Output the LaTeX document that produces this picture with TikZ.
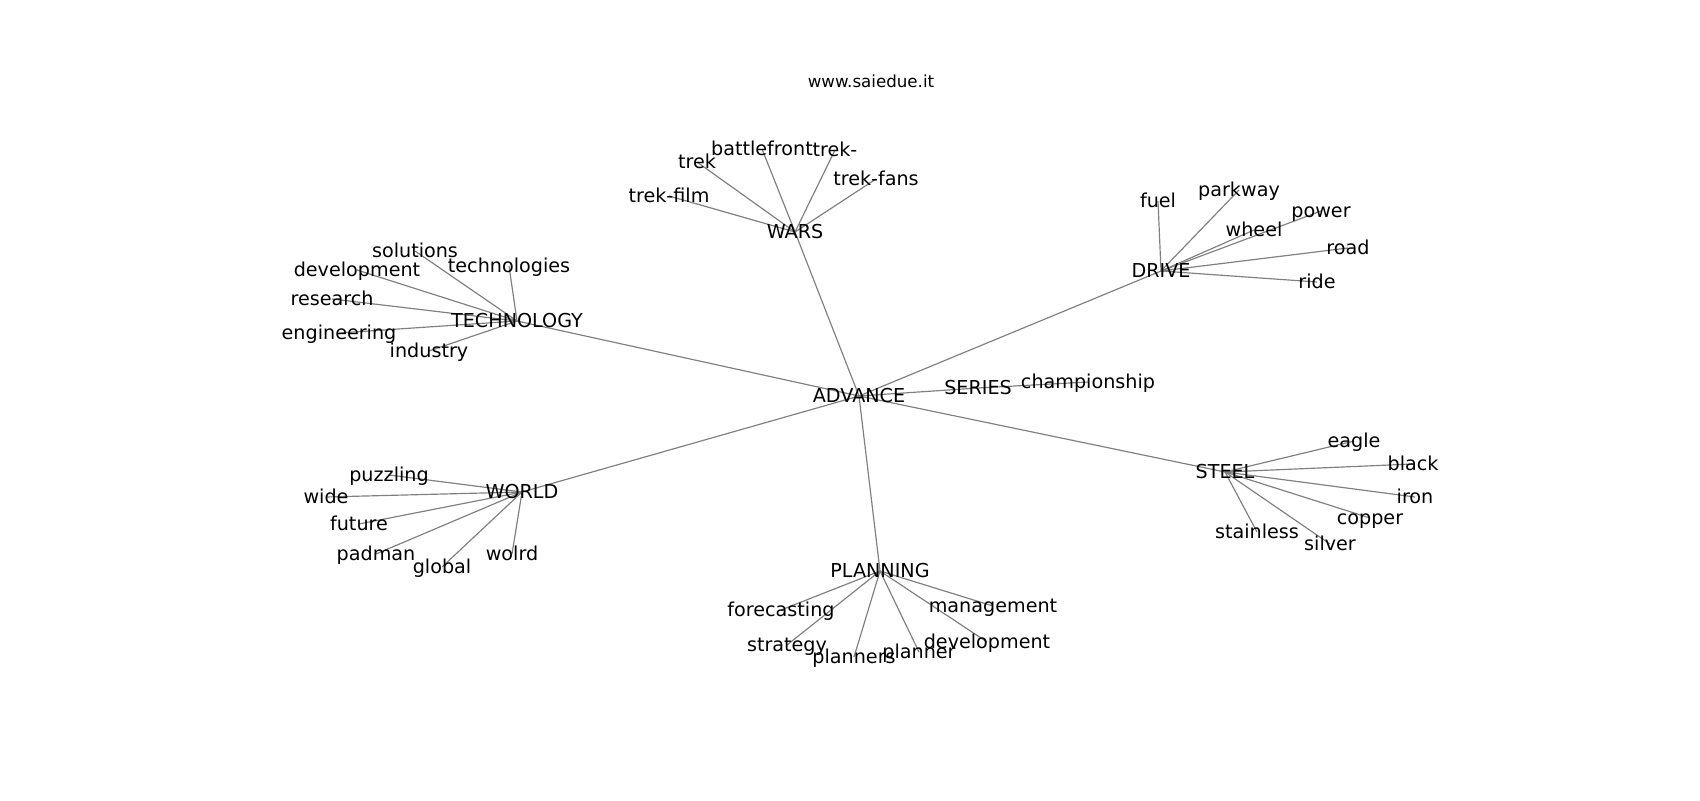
\documentclass[tikz,border=0pt]{standalone}
\usepackage{fontspec}
\setmainfont{DejaVu Sans}
\usetikzlibrary{backgrounds}

\begin{document}
\begin{tikzpicture}[x=0.72pt, y=-0.72pt,
  word/.style={inner sep=0pt, font=\fontsize{13.8pt}{16pt}\selectfont, text height=10.4pt, text depth=0.5pt},
  link/.style={draw=gray, line width=0.85pt}]
\useasboundingbox (0,0) rectangle (1700,800);
\node[inner sep=0pt, font=\fontsize{12pt}{14pt}\selectfont] (title) at (871,81) {www.saiedue.it};
% centre
\node[word] (adv) at (859,396) {ADVANCE};
\node[word] (series) at (978,388) {SERIES};
\node[word] (champ) at (1088,382) {championship};
% wars
\node[word] (wars) at (795,232) {WARS};
\node[word] (trekfilm) at (669,196) {trek-film};
\node[word] (trek) at (697,162) {trek};
\node[word] (battle) at (762,149) {battlefront};
\node[word] (trekd) at (835,150) {trek-};
\node[word] (trekfans) at (876,179) {trek-fans};
% technology
\node[word] (tech) at (517,321) {TECHNOLOGY};
\node[word] (solut) at (415,251) {solutions};
\node[word] (techs) at (509,266) {technologies};
\node[word] (devel) at (357,270) {development};
\node[word] (resea) at (332,299) {research};
\node[word] (engin) at (339,333) {engineering};
\node[word] (indus) at (429,351) {industry};
% drive
\node[word] (drive) at (1161,271) {DRIVE};
\node[word] (fuel) at (1158,201) {fuel};
\node[word] (parkw) at (1239,190) {parkway};
\node[word] (power) at (1321,211) {power};
\node[word] (wheel) at (1254,230) {wheel};
\node[word] (road) at (1348,248) {road};
\node[word] (ride) at (1317,282) {ride};
% world
\node[word] (world) at (522,492) {WORLD};
\node[word] (puzzl) at (389,475) {puzzling};
\node[word] (wide) at (326,497) {wide};
\node[word] (futur) at (359,524) {future};
\node[word] (padma) at (376,554) {padman};
\node[word] (globa) at (442,567) {global};
\node[word] (wolrd) at (512,554) {wolrd};
% planning
\node[word] (plan) at (880,571) {PLANNING};
\node[word] (forec) at (781,610) {forecasting};
\node[word] (strat) at (787,645) {strategy};
\node[word] (plnrs) at (854,657) {planners};
\node[word] (plnr) at (919,652) {planner};
\node[word] (devel2) at (987,642) {development};
\node[word] (manag) at (993,606) {management};
% steel
\node[word] (steel) at (1225,472) {STEEL};
\node[word] (eagle) at (1354,441) {eagle};
\node[word] (black) at (1413,464) {black};
\node[word] (iron) at (1415,497) {iron};
\node[word] (coppe) at (1370,518) {copper};
\node[word] (silve) at (1330,544) {silver};
\node[word] (stain) at (1257,532) {stainless};

\begin{scope}[on background layer]
\path[link] (adv.center) edge (series.center) edge (wars.center) edge (tech.center)
  edge (drive.center) edge (world.center) edge (plan.center) edge (steel.center);
\path[link] (series.center) edge (champ.center);
\path[link] (wars.center) edge (trekfilm.center) edge (trek.center) edge (battle.center)
  edge (trekd.center) edge (trekfans.center);
\path[link] (tech.center) edge (solut.center) edge (techs.center) edge (devel.center)
  edge (resea.center) edge (engin.center) edge (indus.center);
\path[link] (drive.center) edge (fuel.center) edge (parkw.center) edge (power.center)
  edge (wheel.center) edge (road.center) edge (ride.center);
\path[link] (world.center) edge (puzzl.center) edge (wide.center) edge (futur.center)
  edge (padma.center) edge (globa.center) edge (wolrd.center);
\path[link] (plan.center) edge (forec.center) edge (strat.center) edge (plnrs.center)
  edge (plnr.center) edge (devel2.center) edge (manag.center);
\path[link] (steel.center) edge (eagle.center) edge (black.center) edge (iron.center)
  edge (coppe.center) edge (silve.center) edge (stain.center);
\end{scope}
\end{tikzpicture}
\end{document}
